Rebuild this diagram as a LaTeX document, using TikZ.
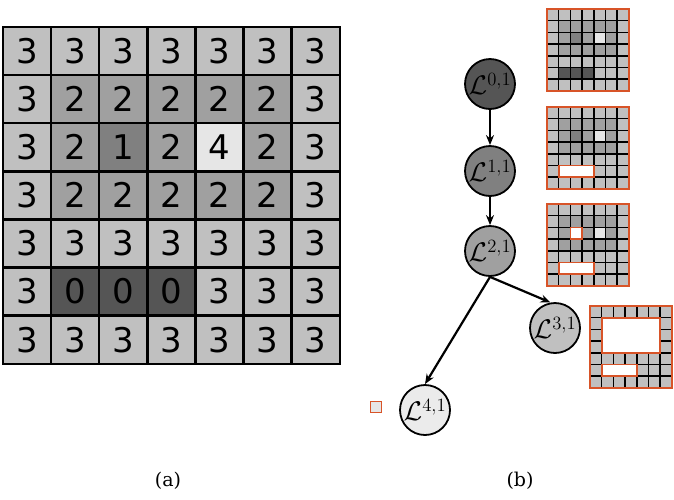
\documentclass[tikz,border=0pt]{standalone}
\usepackage{fontspec}
\setmainfont{DejaVu Serif}
\newfontfamily\digitfont{DejaVu Sans}
\usetikzlibrary{arrows.meta}
\definecolor{c0}{HTML}{555555}
\definecolor{c1}{HTML}{808080}
\definecolor{c2}{HTML}{A0A0A0}
\definecolor{c3}{HTML}{C0C0C0}
\definecolor{c4}{HTML}{E6E6E6}
\definecolor{hl}{RGB}{216,84,40}
\newcommand\cellvalues{{3,3,3,3,3,3,3},{3,2,2,2,2,2,3},{3,2,1,2,4,2,3},{3,2,2,2,2,2,3},{3,3,3,3,3,3,3},{3,0,0,0,3,3,3},{3,3,3,3,3,3,3}}
\newcommand\cellfill{%
  \foreach \rowlist [count=\ri from 0] in \cellvalues {%
    \foreach \v [count=\ci from 0] in \rowlist {%
      \fill[c\v] (\ci,\ri) rectangle ++(1,1);%
    }%
  }%
}
\newcommand\celltext{%
  \foreach \rowlist [count=\ri from 0] in \cellvalues {%
    \foreach \v [count=\ci from 0] in \rowlist {%
      \node[digit] at (\ci+0.5,\ri+0.5) {\v};%
    }%
  }%
}
\newcommand\gridlines[1]{%
  \foreach \k in {0,...,7}{\draw[#1] (\k,-0.02) -- (\k,7.02); \draw[#1] (-0.02,\k) -- (7.02,\k);}%
}
\newcommand\Llabel[1]{\scalebox{1.3}{$\mathcal{L}^{#1}$}}
\tikzset{
  digit/.style={font=\digitfont\fontsize{34}{40}\selectfont, inner sep=0pt},
  treenode/.style={circle, draw=black, line width=1.8pt, minimum size=50pt, inner sep=0pt, font=\fontsize{20}{24}\selectfont},
  arr/.style={line width=2.2pt, -{Stealth[length=10pt,width=8pt]}},
  hlbox/.style={fill=white, draw=hl, line width=1.8pt},
  miniframe/.style={draw=hl, line width=1.8pt},
  caption/.style={font=\fontsize{19}{23}\selectfont},
}
\begin{document}
\begin{tikzpicture}[x=1pt,y=-1pt]
\useasboundingbox (0,0) rectangle (674,499);
% (a) big grid
\begin{scope}[shift={(3,27)}, scale=48.1]
  \cellfill
  \gridlines{line width=2.4pt, black}
  \celltext
\end{scope}
% thumbnails
\begin{scope}[shift={(547,9)}, scale=11.7]
  \cellfill
  \gridlines{line width=1.5pt, black}
  \draw[miniframe] (0,0) rectangle (7,7);
\end{scope}
\begin{scope}[shift={(547,107)}, scale=11.7]
  \cellfill
  \gridlines{line width=1.5pt, black}
  \draw[miniframe] (0,0) rectangle (7,7);
  \draw[hlbox] (1,5) rectangle (4,6);
\end{scope}
\begin{scope}[shift={(547,204)}, scale=11.7]
  \cellfill
  \gridlines{line width=1.5pt, black}
  \draw[miniframe] (0,0) rectangle (7,7);
  \draw[hlbox] (1,5) rectangle (4,6);
  \draw[hlbox] (2,2) rectangle (3,3);
\end{scope}
\begin{scope}[shift={(590,306)}, scale=11.7]
  \cellfill
  \gridlines{line width=1.5pt, black}
  \draw[miniframe] (0,0) rectangle (7,7);
  \draw[hlbox] (1,5) rectangle (4,6);
  \draw[hlbox] (1,1) rectangle (6,4);
\end{scope}
% small square
\node[draw=hl, line width=1.8pt, fill=c4, minimum size=11pt, inner sep=0pt] (sq) at (376,407) {};
% tree
\node[treenode, fill=c0] (L0) at (490,84) {\Llabel{0,1}};
\node[treenode, fill=c1] (L1) at (490,171) {\Llabel{1,1}};
\node[treenode, fill=c2] (L2) at (490,251) {\Llabel{2,1}};
\node[treenode, fill=c3] (L3) at (555,328) {\Llabel{3,1}};
\node[treenode, fill=c4!80!white] (L4) at (425,410) {\Llabel{4,1}};
\draw[arr] (L0) -- (L1);
\draw[arr] (L1) -- (L2);
\draw[arr] (L2.south) -- (L3.100);
\draw[arr] (L2.south) -- (L4.north);
% captions
\node[caption] (capa) at (168,481) {(a)};
\node[caption] (capb) at (520,481) {(b)};
\end{tikzpicture}
\end{document}
